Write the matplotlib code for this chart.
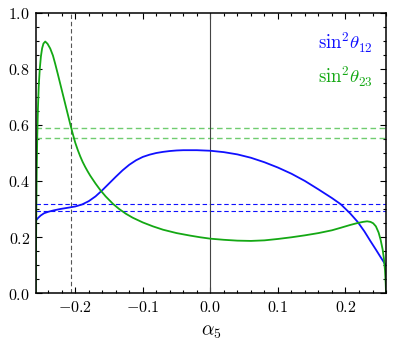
import matplotlib
matplotlib.use("Agg")
import matplotlib.pyplot as plt
from matplotlib.ticker import MultipleLocator, FixedLocator, FixedFormatter

plt.rcParams['mathtext.fontset'] = 'cm'
plt.rcParams['font.family'] = ['DejaVu Serif']

# sin^2 theta_12
alpha_12 = [-0.2585, -0.2550, -0.2510, -0.2460, -0.2400, -0.2320, -0.2220, -0.2120,
            -0.2000, -0.1900, -0.1800, -0.1700, -0.1600, -0.1500, -0.1400, -0.1300,
            -0.1200, -0.1100, -0.1000, -0.0900, -0.0800, -0.0700, -0.0600, -0.0500,
            -0.0400, -0.0300, -0.0200, -0.0100, 0.0000, 0.0200, 0.0400, 0.0600,
            0.0800, 0.1000, 0.1200, 0.1400, 0.1600, 0.1800, 0.1930, 0.2070,
            0.2180, 0.2280, 0.2370, 0.2450, 0.2520, 0.2560, 0.2600]
s12 = [0.258, 0.268, 0.277, 0.285, 0.290, 0.295, 0.300, 0.304,
       0.309, 0.316, 0.328, 0.345, 0.367, 0.391, 0.415, 0.438,
       0.458, 0.474, 0.486, 0.494, 0.500, 0.504, 0.507, 0.509,
       0.510, 0.510, 0.510, 0.509, 0.508, 0.503, 0.495, 0.483,
       0.467, 0.448, 0.426, 0.400, 0.370, 0.339, 0.317, 0.284,
       0.254, 0.220, 0.185, 0.155, 0.128, 0.113, 0.097]

# sin^2 theta_23
alpha_23 = [-0.2585, -0.2583, -0.2580, -0.2576, -0.2570, -0.2562, -0.2552, -0.2540,
            -0.2525, -0.2508, -0.2490, -0.2470, -0.2444, -0.2410, -0.2370, -0.2330,
            -0.2296, -0.2260, -0.2222, -0.2185, -0.2148, -0.2110, -0.2074, -0.2037,
            -0.2000, -0.1963, -0.1926, -0.1890, -0.1852, -0.1815, -0.1778, -0.1700,
            -0.1630, -0.1550, -0.1440, -0.1350, -0.1250, -0.1150, -0.1000, -0.0850,
            -0.0700, -0.0500, -0.0300, -0.0150, 0.0000, 0.0200, 0.0400, 0.0600,
            0.0800, 0.1000, 0.1200, 0.1400, 0.1600, 0.1800, 0.1930, 0.2070,
            0.2180, 0.2260, 0.2320, 0.2370, 0.2410, 0.2450, 0.2490, 0.2520,
            0.2550, 0.2570, 0.2585, 0.2595, 0.2600]
s23 = [0.000, 0.080, 0.170, 0.300, 0.440, 0.560, 0.660, 0.740,
       0.800, 0.845, 0.874, 0.891, 0.898, 0.890, 0.873, 0.848,
       0.818, 0.784, 0.747, 0.711, 0.675, 0.638, 0.603, 0.569,
       0.537, 0.511, 0.488, 0.468, 0.450, 0.434, 0.419, 0.391,
       0.368, 0.345, 0.318, 0.300, 0.283, 0.269, 0.252, 0.238,
       0.226, 0.214, 0.205, 0.199, 0.194, 0.190, 0.187, 0.186,
       0.188, 0.193, 0.199, 0.206, 0.214, 0.224, 0.233, 0.243,
       0.250, 0.254, 0.256, 0.254, 0.249, 0.238, 0.216, 0.190,
       0.155, 0.120, 0.080, 0.035, 0.000]

band_12 = [0.293, 0.317]
band_23 = [0.555, 0.590]
alpha_best = -0.206

blue = '#1010ff'
green = '#14a814'
light_green = '#70cc70'

fig = plt.figure(figsize=(3.99, 3.47), dpi=100)
ax = fig.add_axes([0.0895, 0.1556, 0.878, 0.807])

for v in band_23:
    ax.axhline(v, color=light_green, lw=1.0, ls=(0, (4, 2.5)))
for v in band_12:
    ax.axhline(v, color=blue, lw=0.8, ls=(0, (4, 2.5)))
ax.axvline(0.0, color='#444444', lw=0.8)
ax.axvline(alpha_best, color='#555555', lw=0.8, ls=(0, (4, 2.5)))

ax.plot(alpha_12, s12, color=blue, lw=1.3)
ax.plot(alpha_23, s23, color=green, lw=1.3)

ax.set_xlim(-0.2585, 0.26)
ax.set_ylim(0, 1)

xt = [-0.2, -0.1, 0.0, 0.1, 0.2]
ax.xaxis.set_major_locator(FixedLocator(xt))
ax.xaxis.set_major_formatter(FixedFormatter([r'$-0.2$', r'$-0.1$', r'$0.0$', r'$0.1$', r'$0.2$']))
ax.xaxis.set_minor_locator(MultipleLocator(0.02))
yt = [0.0, 0.2, 0.4, 0.6, 0.8, 1.0]
ax.yaxis.set_major_locator(FixedLocator(yt))
ax.yaxis.set_major_formatter(FixedFormatter([r'$%.1f$' % v for v in yt]))
ax.yaxis.set_minor_locator(MultipleLocator(0.05))

ax.tick_params(which='both', direction='in', top=True, right=True, width=0.8)
ax.tick_params(which='major', length=4, labelsize=11.5, pad=4)
ax.tick_params(which='minor', length=2)
for s in ax.spines.values():
    s.set_linewidth(1.1)

ax.set_xlabel(r'$\alpha_5$', fontsize=14, labelpad=5)

ax.text(0.962, 0.893, r'$\mathrm{sin}^2\theta_{12}$', color=blue, fontsize=13.5,
        transform=ax.transAxes, ha='right', va='center')
ax.text(0.962, 0.771, r'$\mathrm{sin}^2\theta_{23}$', color=green, fontsize=13.5,
        transform=ax.transAxes, ha='right', va='center')

fig.savefig('out.png', dpi=100)
